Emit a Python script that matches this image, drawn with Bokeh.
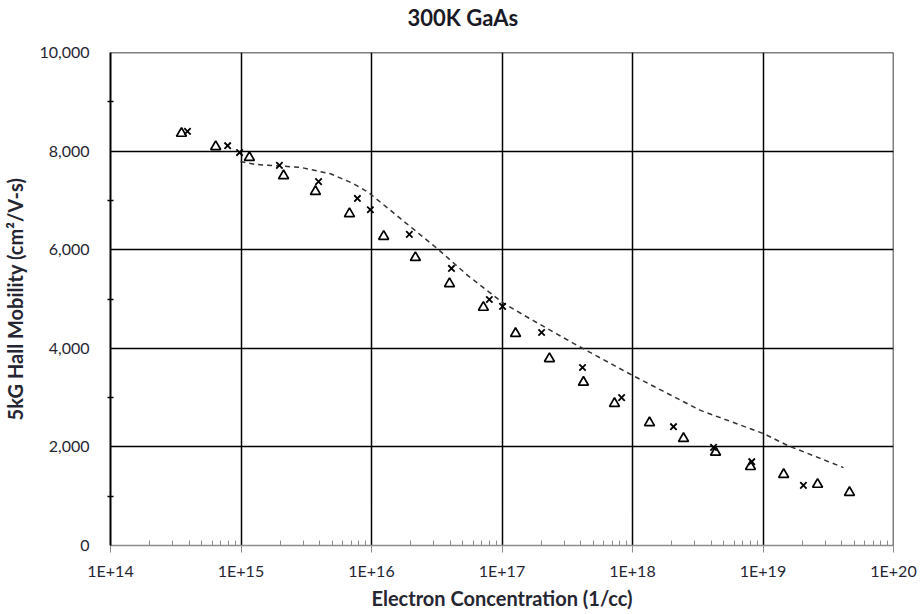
from bokeh.plotting import figure
from bokeh.models import (FixedTicker, NumeralTickFormatter, CustomJSTickFormatter,
                          Range1d, Span, Title)
from bokeh.embed import file_html
from bokeh.resources import INLINE

# ---- data ----
tri_conc = [3.5e14, 6.4e14, 1.16e15, 2.12e15, 3.72e15, 6.78e15, 1.24e16, 2.17e16,
            3.96e16, 7.2e16, 1.27e17, 2.31e17, 4.21e17, 7.28e17, 1.35e18, 2.46e18,
            4.33e18, 8.02e18, 1.44e19, 2.62e19, 4.6e19]
tri_mob = [8360, 8090, 7870, 7500, 7180, 6730, 6270, 5840, 5310, 4830, 4300, 3790,
           3310, 2880, 2490, 2170, 1890, 1600, 1440, 1240, 1075]

x_conc = [3.89e14, 7.9e14, 9.75e14, 1.97e15, 3.93e15, 7.8e15, 9.8e15, 1.95e16, 4.1e16,
          8.0e16, 1.01e17, 2.01e17, 4.14e17, 8.25e17, 2.06e18, 4.18e18, 8.2e18, 2.04e19]
x_mob = [8400, 8110, 7970, 7710, 7380, 7040, 6810, 6310, 5620, 4990, 4850, 4320, 3610,
         3000, 2410, 1990, 1700, 1220]

fit_conc = [9.9e14, 1.29e15, 2.86e15, 4.85e15, 7.28e15, 9.5e15, 1.67e16, 3.2e16, 5.45e16,
            1.03e17, 1.74e17, 3.53e17, 1.0e18, 3.32e18, 1.01e19, 1.54e19, 4.14e19]
fit_mob = [7790, 7730, 7670, 7540, 7340, 7160, 6630, 6020, 5480, 4910, 4560, 4100,
           3450, 2740, 2270, 2030, 1580]

x_major = [1e14, 1e15, 1e16, 1e17, 1e18, 1e19, 1e20]
y_major = [0, 2000, 4000, 6000, 8000, 10000]
y_minor = [1000, 3000, 5000, 7000, 9000]

title_text = "300K GaAs"
x_label = "Electron Concentration (1/cc)"
y_label = "5kG Hall Mobility (cm\u00b2/V-s)"

FONT = "Lato"
TXT = "#262633"

p = figure(width=922, height=614, x_axis_type="log", output_backend="svg",
           toolbar_location=None,
           x_range=Range1d(x_major[0], x_major[-1]), y_range=Range1d(y_major[0], y_major[-1]),
           min_border_left=110, min_border_right=29, min_border_top=52, min_border_bottom=69)

p.background_fill_color = "white"
p.border_fill_color = "white"
p.outline_line_color = None

# spacer between the title and the plot area (stacked next to the frame)
p.add_layout(Title(text=" ", text_font_size="12px", standoff=2), "above")

# title
p.title.text = title_text
p.title.align = "left"
p.title.offset = 297
p.title.vertical_align = "top"
p.title.text_font = FONT
p.title.text_font_size = "22px"
p.title.text_font_style = "bold"
p.title.text_color = "#1a1a26"
p.title.standoff = 4

# x axis
x_minor = [m * d for d in x_major[:-1] for m in range(2, 10)]
xa = p.xaxis[0]
xa.ticker = FixedTicker(ticks=x_major, minor_ticks=x_minor)
xa.formatter = CustomJSTickFormatter(code="return '1E+' + Math.round(Math.log10(tick));")
xa.axis_line_color = "#8c8c8c"
xa.axis_line_width = 1.5
xa.major_tick_line_color = "#8c8c8c"
xa.major_tick_out = 7
xa.major_tick_in = 0
xa.minor_tick_line_color = "#8c8c8c"
xa.minor_tick_in = 5
xa.minor_tick_out = 0
xa.major_label_text_font = FONT
xa.major_label_text_font_size = "16px"
xa.major_label_text_color = TXT
xa.major_label_standoff = 8
xa.axis_label = x_label
xa.axis_label_text_font = FONT
xa.axis_label_text_font_size = "20px"
xa.axis_label_text_font_style = "bold"
xa.axis_label_text_color = TXT
xa.axis_label_standoff = 3

# y axis
ya = p.yaxis[0]
ya.ticker = FixedTicker(ticks=y_major, minor_ticks=y_minor)
ya.formatter = NumeralTickFormatter(format="0,0")
ya.axis_line_color = "black"
ya.axis_line_width = 2
ya.major_tick_out = 0
ya.major_tick_in = 0
ya.minor_tick_line_color = "black"
ya.minor_tick_in = 3
ya.minor_tick_out = 3
ya.minor_tick_line_width = 1.5
ya.major_label_text_font = FONT
ya.major_label_text_font_size = "16px"
ya.major_label_text_color = TXT
ya.major_label_standoff = 18
ya.axis_label = y_label
ya.axis_label_text_font = FONT
ya.axis_label_text_font_size = "20px"
ya.axis_label_text_font_style = "bold"
ya.axis_label_text_color = TXT
ya.axis_label_standoff = 9

# grids
p.xgrid.ticker = FixedTicker(ticks=x_major[1:])
p.xgrid.grid_line_color = "black"
p.xgrid.grid_line_width = 1.5
p.ygrid.ticker = FixedTicker(ticks=y_major[1:])
p.ygrid.grid_line_color = "black"
p.ygrid.grid_line_width = 1.5

# top and right borders of the plot area
p.add_layout(Span(location=y_major[-1], dimension="width", line_color="black", line_width=1.5))
p.add_layout(Span(location=x_major[-1], dimension="height", line_color="black", line_width=1.5))

# data
p.line(fit_conc, fit_mob, line_color="#333333", line_width=1.5, line_dash="5 4")
p.scatter(tri_conc, tri_mob, marker="triangle", size=10, fill_color="white",
          line_color="black", line_width=1.7)
p.scatter(x_conc, x_mob, marker="x", size=9, line_color="black", line_width=1.8)

open("out.html", "w").write(file_html(p, INLINE))
